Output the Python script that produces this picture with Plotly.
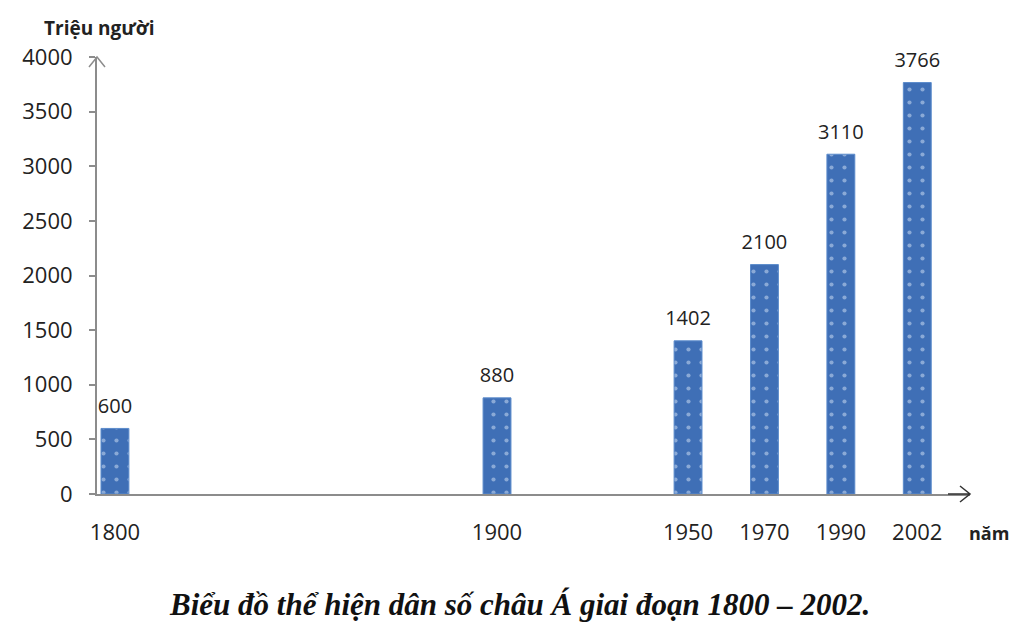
import plotly.graph_objects as go

# data
years = ["1800", "1900", "1950", "1970", "1990", "2002"]
# horizontal slot of each column on the axis (the chart places 2002 one step after 1990)
axis_slots = [1800, 1900, 1950, 1970, 1990, 2010]
population = [600, 880, 1402, 2100, 3110, 3766]
y_ticks = [0, 500, 1000, 1500, 2000, 2500, 3000, 3500, 4000]

BAR = "#3F6FB6"
AXIS = "#8C8C8C"
FONT = "Open Sans, Liberation Sans, sans-serif"

fig = go.Figure()
fig.add_trace(
    go.Bar(
        x=axis_slots,
        y=population,
        width=7.3,
        marker=dict(
            color=BAR,
            line=dict(color="#5B8BCB", width=1),
            pattern=dict(shape=".", fgcolor="#D6E4F5", size=13, solidity=0.08),
        ),
        hoverinfo="skip",
    )
)
# value labels, lifted a little above the bars with invisible markers
fig.add_trace(
    go.Scatter(
        x=axis_slots,
        y=population,
        mode="markers+text",
        marker=dict(size=15, opacity=0),
        text=[str(v) for v in population],
        textposition="top center",
        textfont=dict(size=20, color="#222222", family=FONT),
        cliponaxis=False,
    )
)

# page body adds 8px around the figure, so the figure is 16px smaller
fig.update_layout(
    width=1008,
    height=618,
    paper_bgcolor="white",
    plot_bgcolor="white",
    showlegend=False,
    margin=dict(l=89, r=46, t=49, b=132, autoexpand=False),
    font=dict(family=FONT, color="#222222"),
)
fig.update_xaxes(
    range=[1795.3, 2023.8],
    tickmode="array",
    tickvals=axis_slots,
    ticktext=years,
    ticks="",
    showgrid=False,
    zeroline=False,
    showline=True,
    linecolor=AXIS,
    linewidth=2,
    tickfont=dict(size=22, color="#222222"),
    ticklabelstandoff=18,
    automargin=False,
)
fig.update_yaxes(
    range=[0, 4000],
    tickmode="array",
    tickvals=y_ticks,
    ticks="outside",
    ticklen=6,
    tickcolor=AXIS,
    tickwidth=1.5,
    showgrid=False,
    zeroline=False,
    showline=True,
    linecolor=AXIS,
    linewidth=2,
    tickfont=dict(size=22, color="#222222"),
    ticklabelstandoff=12,
    automargin=False,
)

# axis arrows (open chevrons)
fig.add_shape(
    type="path",
    xref="paper", yref="paper",
    xsizemode="pixel", ysizemode="pixel",
    xanchor=1, yanchor=0,
    path="M -22,0 L 0,0 M -10,-8 L 0,0 L -10,8",
    line=dict(color="#333333", width=1.5),
)
fig.add_shape(
    type="path",
    xref="paper", yref="paper",
    xsizemode="pixel", ysizemode="pixel",
    xanchor=0, yanchor=1,
    path="M -8,-10 L 0,0 L 8,-10",
    line=dict(color=AXIS, width=1.5),
)

fig.add_annotation(
    text="<b>Triệu người</b>", xref="paper", yref="paper",
    x=0.002, y=1.066, xanchor="center", yanchor="middle",
    showarrow=False, font=dict(size=19, color="#222222"),
)
fig.add_annotation(
    text="<b>năm</b>", xref="paper", yref="paper",
    x=1.022, y=-0.089, xanchor="center", yanchor="middle",
    showarrow=False, font=dict(size=18, color="#222222"),
)
fig.add_annotation(
    text="<b><i>Biểu đồ thể hiện dân số châu Á giai đoạn 1800 – 2002.</i></b>",
    xref="paper", yref="paper",
    x=0.4834, y=-0.254, xanchor="center", yanchor="middle",
    showarrow=False,
    font=dict(size=31, color="#111111", family="Liberation Serif, DejaVu Serif, serif"),
)

fig.write_html("out.html")
